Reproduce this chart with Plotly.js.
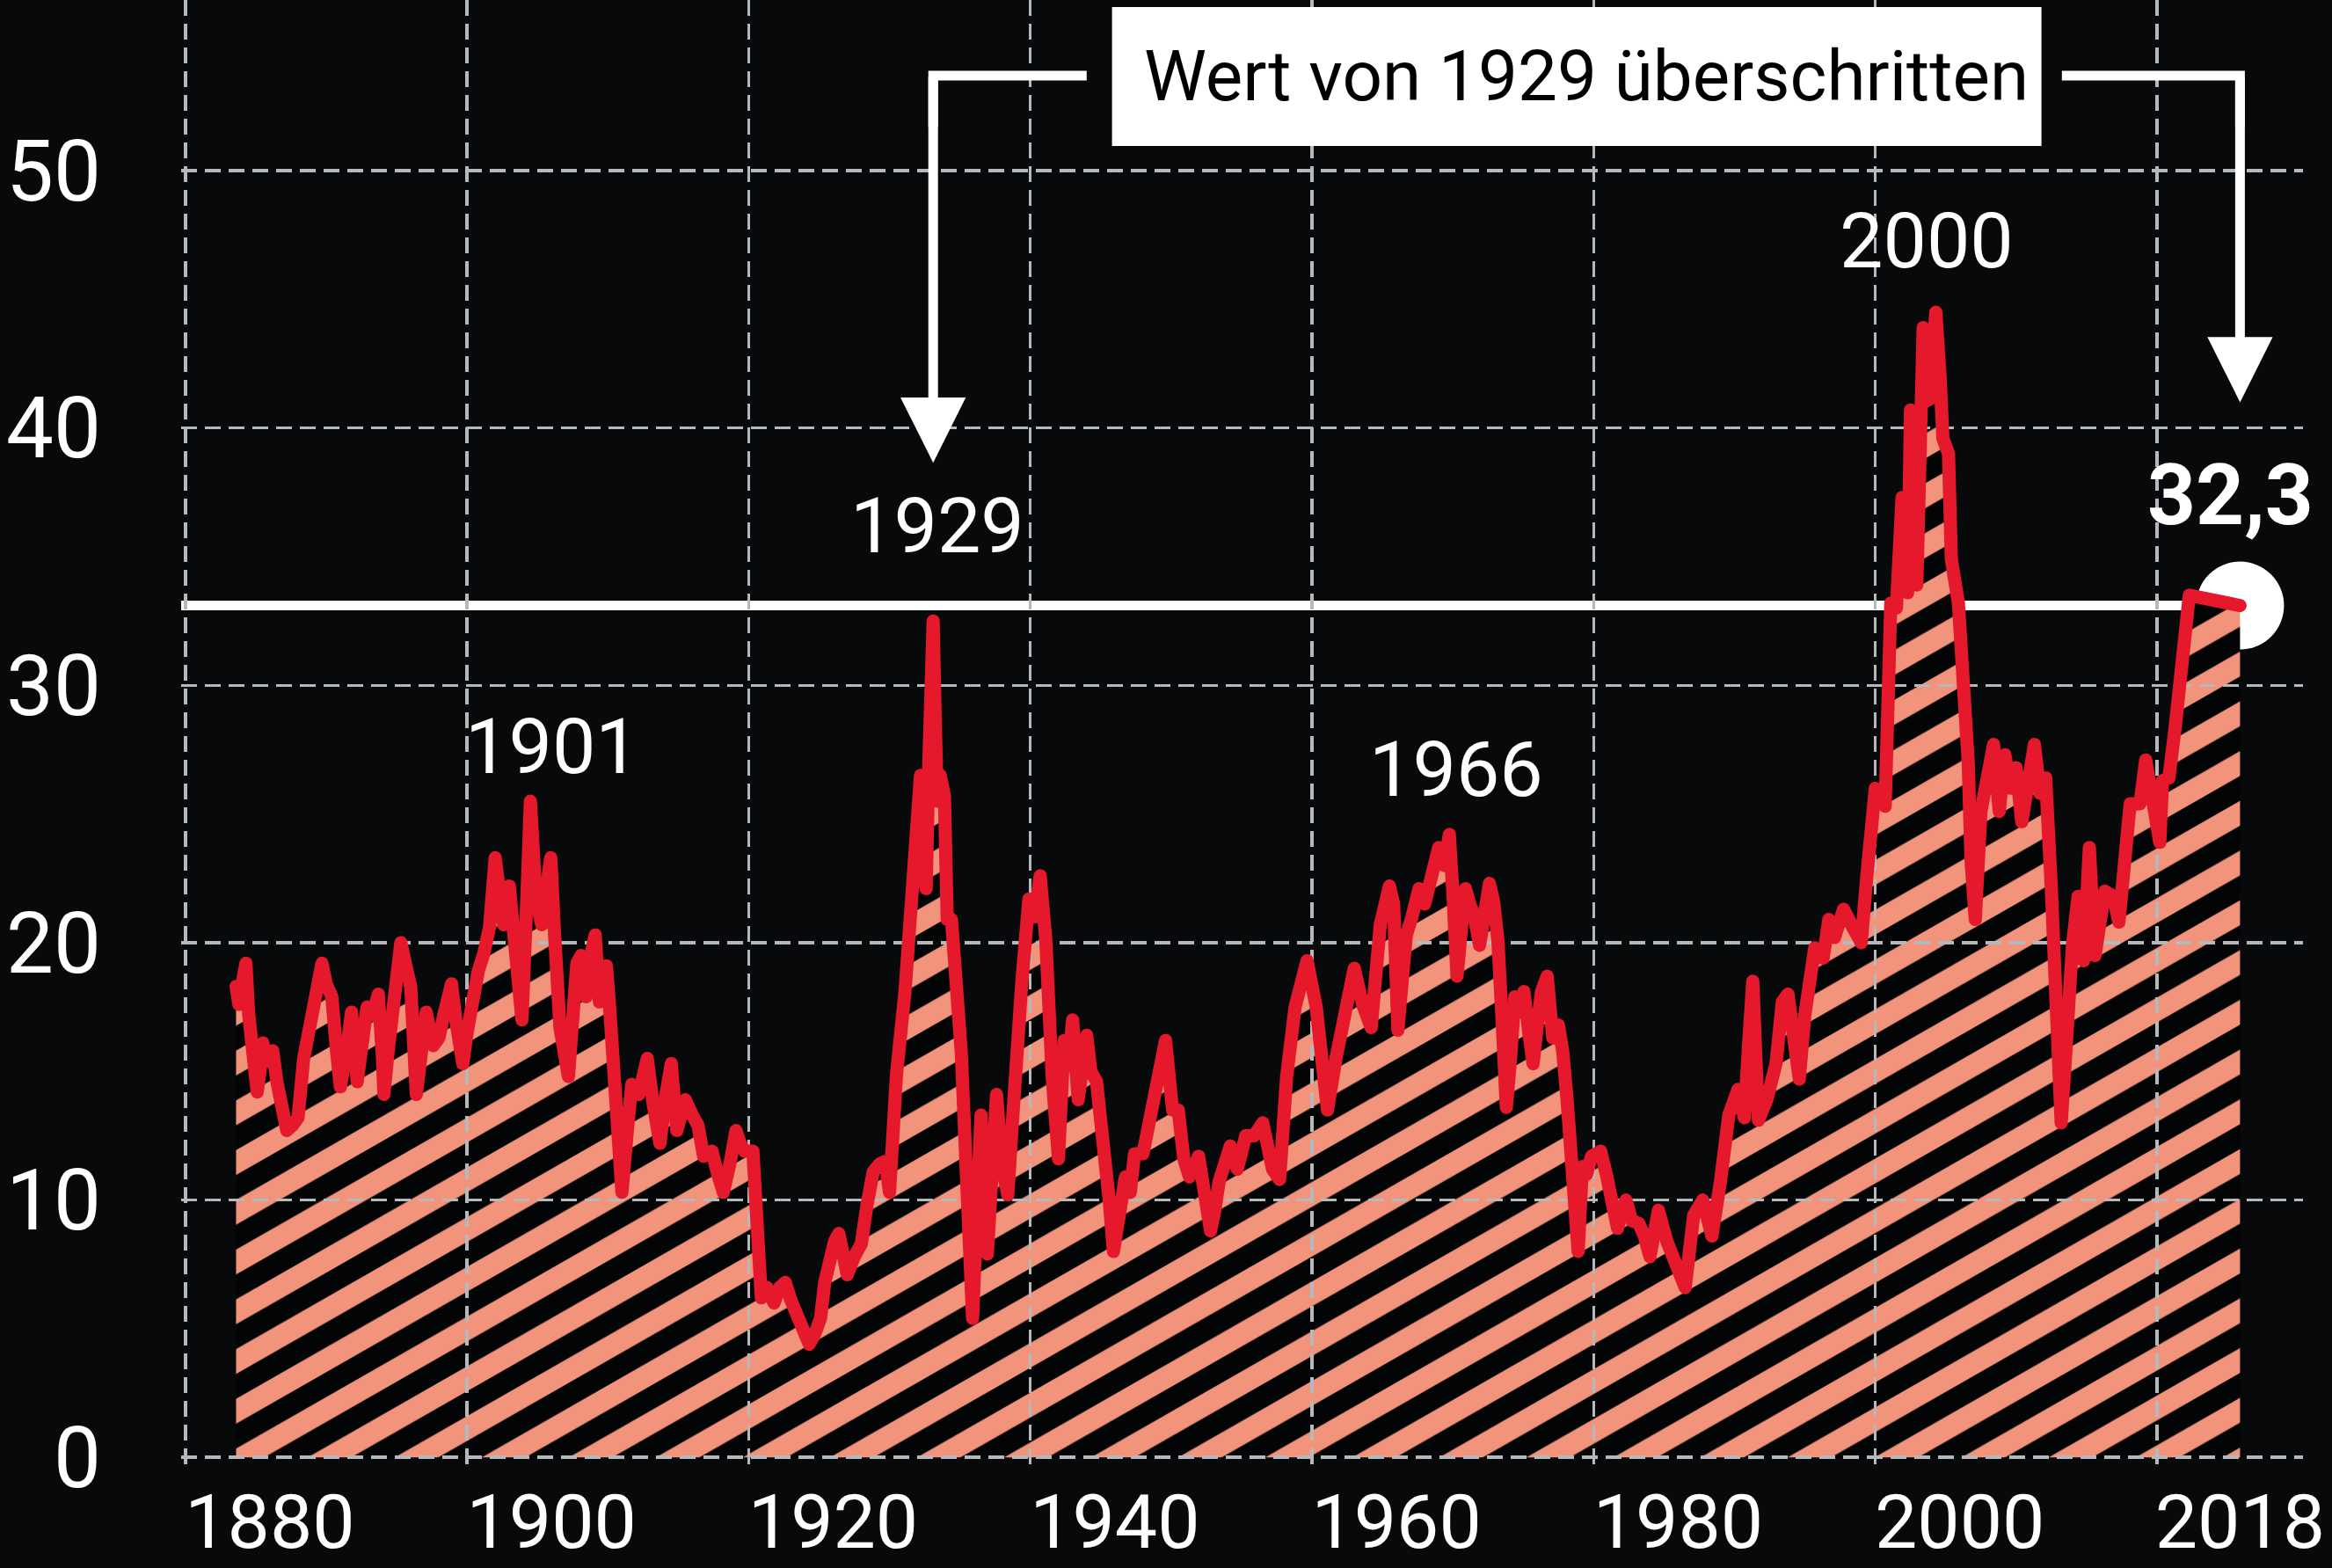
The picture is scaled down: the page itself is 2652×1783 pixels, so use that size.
<!DOCTYPE html>
<html>
<head>
<meta charset="utf-8">
<script src="https://cdn.plot.ly/plotly-3.0.1.min.js"></script>
<style>
html,body{margin:0;padding:0;background:#07090b;}
#chart{width:2652px;height:1783px;}
</style>
</head>
<body>
<div id="chart"></div>
<script>
// ---------- DATA ----------
const years = [
1877.6,1877.8,1878.1,1878.3,1878.5,1878.8,1879.1,1879.3,1879.5,1879.8,1880.2,1880.5,1880.9,1881.2,1881.6,1882.0,1882.4,1882.9,1883.3,1883.7,
1884.0,1884.4,1884.7,1885.0,1885.4,1885.8,1886.2,1886.5,1886.9,1887.3,1887.7,1888.0,1888.1,1888.4,1888.7,1889.0,1889.3,1889.7,1890.0,1890.4,
1890.8,1891.1,1891.6,1892.0,1892.4,1892.9,1893.2,1893.7,1894.0,1894.3,1894.8,1895.2,1895.6,1896.0,1896.3,1896.6,1897.0,1897.4,1897.9,1898.2,
1898.5,1898.9,1899.3,1899.6,1899.95,1900.2,1900.6,1901.2,1901.5,1901.8,1902.1,1902.45,1902.8,1903.1,1903.4,1903.6,1903.9,1904.1,1904.5,1905.0,
1905.4,1905.7,1906.2,1906.8,1907.2,1907.7,1908.1,1908.5,1908.9,1909.5,1910.0,1910.4,1910.8,1911.4,1911.8,1912.2,1912.7,1913.1,1913.4,1913.7,
1914.3,1914.6,1914.9,1915.3,1915.8,1916.2,1916.6,1917.0,1917.4,1917.9,1918.3,1918.7,1919.1,1919.4,1919.7,1920.1,1920.4,1920.7,1921.0,1921.5,
1922.0,1922.4,1922.85,1923.3,1923.7,1924.0,1924.3,1924.5,1925.1,1925.6,1926.0,1926.2,1926.45,1926.6,1926.8,1927.0,1927.1,1927.25,1927.4,1927.6,
1927.9,1928.1,1928.4,1928.7,1929.1,1929.5,1929.9,1930.2,1930.5,1930.95,1931.3,1931.6,1932.0,1932.4,1932.7,1933.05,1933.4,1933.9,1934.3,1934.7,
1935.1,1935.55,1936.0,1936.4,1936.7,1937.0,1937.4,1938.0,1938.3,1938.7,1939.3,1939.6,1939.9,1940.3,1940.75,1941.1,1941.4,1942.0,1942.4,1943.0,
1943.6,1944.1,1944.5,1944.9,1945.3,1945.95,1946.4,1946.8,1947.1,1947.4,1948.2,1948.7,1949.3,1949.9,1950.5,1951.2,1951.7,1952.2,1952.8,1953.2,
1953.65,1954.3,1954.7,1955.1,1955.7,1956.4,1957.0,1957.6,1958.2,1958.85,1959.5,1959.8,1960.1,1960.4,1960.7,1961.1,1961.6,1962.0,1962.4,1963.0,
1963.4,1963.75,1964.0,1964.3,1964.6,1964.9,1965.2,1965.5,1965.9,1966.2,1966.6,1966.9,1967.2,1967.5,1967.8,1968.1,1968.4,1968.7,1969.05,1969.4,
1969.7,1970.0,1970.3,1970.7,1971.1,1971.5,1971.8,1972.1,1972.4,1972.9,1973.2,1973.5,1973.85,1974.5,1974.9,1975.3,1975.7,1976.0,1976.3,1976.7,
1977.2,1977.6,1978.0,1978.3,1978.6,1979.2,1979.9,1980.2,1980.5,1980.8,1981.1,1981.75,1982.1,1982.4,1983.0,1983.6,1984.25,1984.7,1985.0,1985.3,
1985.7,1986.3,1986.95,1987.4,1987.8,1988.2,1988.6,1989.0,1989.7,1990.3,1990.7,1991.1,1991.75,1992.4,1993.0,1993.4,1993.6,1994.0,1994.7,1994.9,
1995.1,1995.5,1995.9,1996.3,1996.5,1996.95,1997.4,1997.8,1998.3,1998.6,1998.8,1999.2,1999.4,1999.9,2000.3,2000.6,2000.8,2001.1,2001.5,2001.95,
2002.4,2002.8,2003.2,2003.6,2004.0,2004.4,2004.9,2005.3,2005.7,2006.1,2006.5,2006.9,2007.2,2007.5,2007.8,2008.0,2008.4,2008.8,2009.2,2009.6,
2010.3,2010.9,2011.3,2011.7,2012.1,2012.8,2013.2,2013.8,2014.2,2014.4,2014.85,2015.3,2015.7,2016.1,2016.3,2019.9
];
const cape = [
18.3,17.6,18.6,19.2,17.2,15.5,14.2,15.0,16.1,15.4,15.8,14.6,13.4,12.7,12.9,13.2,15.5,16.9,18.0,19.2,
18.4,17.9,16.0,14.4,15.6,17.3,14.6,16.0,17.5,17.2,18.0,15.5,14.1,15.8,17.2,18.6,20.0,19.0,18.3,14.1,
16.7,17.3,16.0,16.3,17.3,18.4,17.0,15.3,16.5,17.5,18.9,19.6,20.6,23.3,21.5,20.7,22.2,19.5,17.0,21.0,
25.5,21.7,20.7,22.0,23.3,20.5,16.7,14.8,16.5,19.2,19.5,17.9,19.5,20.3,17.7,18.6,19.1,17.7,14.5,10.3,
12.8,14.5,14.1,15.5,13.8,12.2,14.0,15.3,12.7,13.9,13.3,12.9,11.7,11.9,11.0,10.3,11.5,12.7,12.2,11.9,
11.9,9.0,6.2,6.6,6.0,6.6,6.8,6.1,5.6,5.0,4.4,4.8,5.4,6.8,7.7,8.4,8.7,7.8,7.1,7.8,
8.3,9.8,11.1,11.4,11.5,10.3,13.0,14.9,18.1,21.5,23.7,26.5,22.6,22.1,27.1,31.0,32.5,28.5,25.5,26.5,
25.7,20.9,20.9,18.7,15.7,10.5,5.4,9.5,13.3,7.9,11.5,14.1,11.3,10.2,12.8,17.0,18.5,21.7,21.0,22.6,
20.1,14.8,11.6,16.2,15.2,17.0,13.9,16.4,15.0,14.6,12.1,10.0,8.0,9.8,10.9,10.3,11.8,11.8,12.9,15.1,
16.2,13.5,13.5,11.6,10.9,11.7,9.7,8.8,9.6,10.7,12.1,11.2,12.5,12.5,13.0,11.2,10.8,14.8,17.5,18.6,
19.3,17.5,15.5,13.5,15.5,17.5,19.0,17.6,16.7,20.7,22.2,21.5,16.6,18.5,20.3,21.0,22.1,21.5,22.5,23.7,
23.0,24.2,22.0,18.7,20.5,22.1,21.5,21.1,19.9,21.0,22.3,21.6,20.1,17.0,13.6,15.5,17.9,17.3,18.1,16.5,
15.3,16.8,18.1,18.7,16.3,16.8,15.8,14.0,12.0,8.0,11.3,11.0,11.7,11.9,11.0,10.0,8.9,9.6,10.0,9.2,
9.1,8.6,7.8,8.7,9.6,8.4,7.4,7.2,6.6,8.0,9.4,10.0,9.3,8.6,10.7,13.3,14.3,13.2,16.0,18.5,
13.1,13.9,15.3,17.7,18.0,15.8,14.7,17.2,19.8,19.4,20.9,20.2,21.3,20.6,20.0,22.6,24.3,26.0,25.3,29.8,
33.2,33.0,37.3,33.6,40.7,33.9,43.9,41.1,44.5,42.0,39.6,39.0,34.9,33.2,30.0,27.0,23.2,20.9,25.1,26.8,
27.7,25.1,27.3,26.0,26.8,24.7,26.4,27.7,25.8,26.4,22.1,16.0,13.0,15.5,19.0,19.9,21.8,19.3,23.7,19.5,
22.0,21.8,20.8,23.7,25.4,25.4,27.1,25.2,23.9,26.3,26.4,28.4,31.0,33.2,33.5,33.1
];
const yTickValues = [0, 10, 20, 30, 40, 50];
const xTickYears = [1880, 1900, 1920, 1940, 1960, 1980, 2000];
const xTickTexts = ['1880', '1900', '1920', '1940', '1960', '1980', '2000', '2018'];
const gridYears = [1874, 1894, 1914, 1934, 1954, 1974, 1994, 2014];
const level1929 = 33.1;
const lastValueText = '32,3';
const boxText = 'Wert von 1929 überschritten';
const peakNames = ['1901', '1929', '1966', '2000'];
const peakWindows = [[1895, 1902], [1925, 1930], [1960, 1967], [1995, 2001]];

// ---------- helpers ----------
function peakIndex(lo, hi) {
  let best = -1;
  for (let i = 0; i < years.length; i++) {
    if (years[i] >= lo && years[i] <= hi && (best < 0 || cape[i] > cape[best])) best = i;
  }
  return best;
}
const lastI = years.length - 1;
const lastX = years[lastI];
const lastY = cape[lastI];

// ---------- style ----------
const FONT = 'Roboto, "Open Sans", "DejaVu Sans", sans-serif';
const WHITE = '#ffffff';
const RED = '#e6182c';
const SALMON = '#f2937b';
const GRID = '#b6b9bc';
const xRange = [1873.7, 2024.37];
const yRange = [-0.3, 56.63];

const labelShift = {
  '1901': [25, 62], '1929': [5, 109], '1966': [8, 75], '2000': [-10, 81]
};

const traces = [
  { // 1929 reference level
    x: [xRange[0], lastX], y: [level1929, level1929],
    xaxis: 'x', yaxis: 'y', mode: 'lines',
    line: { color: WHITE, width: 11 }, hoverinfo: 'skip'
  },
  { // end circle
    x: [lastX], y: [level1929], xaxis: 'x', yaxis: 'y', mode: 'markers',
    marker: { size: 100, color: WHITE, line: { width: 0 } }, hoverinfo: 'skip'
  },
  { // hatched area
    x: years, y: cape, xaxis: 'x', yaxis: 'y', mode: 'none',
    fill: 'tozeroy', fillcolor: '#030405',
    fillpattern: { shape: '/', fgcolor: SALMON, bgcolor: '#030405', size: 40, solidity: 0.5, fillmode: 'replace' },
    hoverinfo: 'skip'
  },
  { // red line (upper subplot so the grid lies between hatch and line)
    x: years, y: cape, xaxis: 'x2', yaxis: 'y2', mode: 'lines',
    line: { color: RED, width: 15 }, hoverinfo: 'skip'
  }
];

const annotations = [];
peakNames.forEach((name, k) => {
  const i = peakIndex(peakWindows[k][0], peakWindows[k][1]);
  annotations.push({
    x: years[i], y: cape[i], xref: 'x', yref: 'y', text: name, showarrow: false,
    xanchor: 'center', yanchor: 'middle', xshift: labelShift[name][0], yshift: labelShift[name][1],
    font: { family: FONT, size: 88, color: WHITE }
  });
});
annotations.push({
  x: lastX, y: lastY, xref: 'x', yref: 'y', text: '<b>' + lastValueText + '</b>', showarrow: false,
  xanchor: 'center', yanchor: 'middle', xshift: -11, yshift: 126,
  font: { family: FONT, size: 96, color: WHITE }
});
// box label
annotations.push({
  x: 1973.5, y: 53.66, xref: 'x', yref: 'y', text: boxText, showarrow: false,
  xanchor: 'center', yanchor: 'middle',
  font: { family: FONT, size: 80, color: '#000000' }
});
// arrows (vertical parts with heads)
const i1929 = peakIndex(1925, 1930);
const arrowY = 53.69;
annotations.push({
  x: years[i1929], y: 38.65, ax: years[i1929], ay: arrowY, xref: 'x', yref: 'y', axref: 'x', ayref: 'y',
  text: '', showarrow: true, arrowhead: 2, arrowsize: 1.35, arrowwidth: 11, arrowcolor: WHITE, standoff: 0, startstandoff: 0
});
annotations.push({
  x: lastX, y: 41.0, ax: lastX, ay: arrowY, xref: 'x', yref: 'y', axref: 'x', ayref: 'y',
  text: '', showarrow: true, arrowhead: 2, arrowsize: 1.35, arrowwidth: 11, arrowcolor: WHITE, standoff: 0, startstandoff: 0
});

const shapes = [
  { type: 'rect', xref: 'x', yref: 'y', x0: 1939.8, x1: 2005.8, y0: 50.96, y1: 56.36,
    fillcolor: WHITE, line: { width: 0 }, layer: 'above' },
  { type: 'path', xref: 'x', yref: 'y', layer: 'above',
    path: 'M 1938.0,' + arrowY + ' L ' + years[i1929] + ',' + arrowY + ' L ' + years[i1929] + ',' + (arrowY - 2),
    line: { color: WHITE, width: 11 } },
  { type: 'path', xref: 'x', yref: 'y', layer: 'above',
    path: 'M 2007.25,' + arrowY + ' L ' + lastX + ',' + arrowY + ' L ' + lastX + ',' + (arrowY - 2),
    line: { color: WHITE, width: 11 } }
];

const axisCommon = { zeroline: false, showline: false, fixedrange: true, automargin: false };
const layout = {
  width: 2652, height: 1783,
  margin: { l: 206, r: 33, t: 0, b: 117 },
  paper_bgcolor: '#07090b', plot_bgcolor: 'rgba(0,0,0,0)',
  showlegend: false,
  xaxis: Object.assign({}, axisCommon, {
    domain: [0, 1], anchor: 'y', range: xRange, showgrid: false, ticks: '',
    tickvals: xTickYears.concat([lastX]), ticktext: xTickTexts, tickangle: 0,
    tickfont: { family: FONT, size: 86, color: WHITE }, ticklabelstandoff: 7
  }),
  yaxis: Object.assign({}, axisCommon, {
    domain: [0, 1], anchor: 'x', range: yRange, showgrid: false, ticks: '',
    tickvals: yTickValues, ticktext: yTickValues.map(String),
    tickfont: { family: FONT, size: 96, color: WHITE }, ticklabelstandoff: 90
  }),
  xaxis2: Object.assign({}, axisCommon, {
    domain: [0, 1], anchor: 'y2', range: xRange, showgrid: true, showticklabels: false, ticks: '',
    tickvals: gridYears, gridcolor: GRID, gridwidth: 3.5, griddash: '18px,9px'
  }),
  yaxis2: Object.assign({}, axisCommon, {
    domain: [0, 1], anchor: 'x2', range: yRange, showgrid: true, showticklabels: false, ticks: '',
    tickvals: yTickValues, gridcolor: GRID, gridwidth: 3.5, griddash: '18px,9px'
  }),
  shapes: shapes,
  annotations: annotations
};

Plotly.newPlot('chart', traces, layout, { staticPlot: true, displayModeBar: false }).then(function (gd) {
  // tilt the hatch to the shallower angle of the original
  gd.querySelectorAll('pattern').forEach(function (p) { p.setAttribute('patternTransform', 'scale(1.75,1)'); });
  gd.querySelectorAll('.scatterlayer .js-line').forEach(function (p) {
    p.style.strokeLinejoin = 'round'; p.style.strokeLinecap = 'round';
  });
});
</script>
</body>
</html>
